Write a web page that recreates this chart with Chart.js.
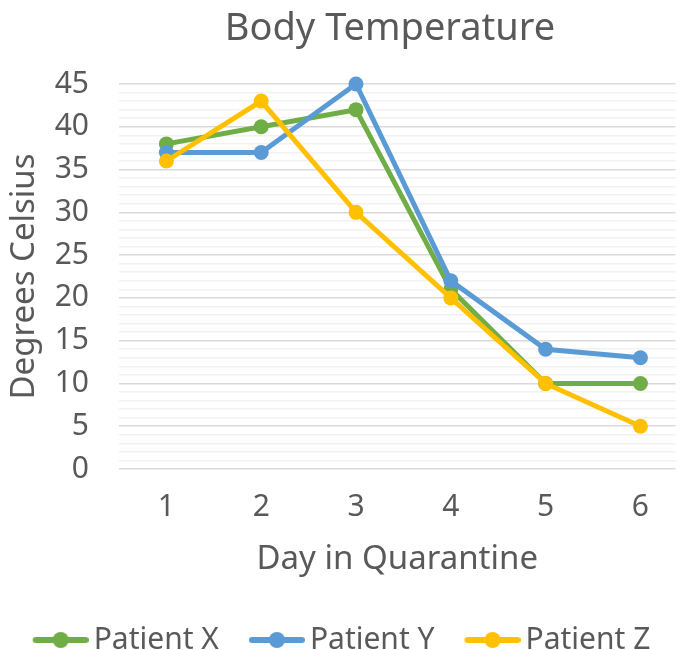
<!DOCTYPE html>
<html>
<head>
<meta charset="utf-8">
<script src="https://cdn.jsdelivr.net/npm/chart.js@4"></script>
<style>
  html, body { margin: 0; padding: 0; background: #fff; overflow: hidden; width: 683px; height: 650px; }
  #wrap { position: absolute; left: 0; top: 0; width: 683px; height: 665px; }
</style>
</head>
<body>
<div id="wrap"><canvas id="chart" width="683" height="665"></canvas></div>
<script>
// chart data
const days = [1, 2, 3, 4, 5, 6];
const patientX = [38, 40, 42, 21, 10, 10];
const patientY = [37, 37, 45, 22, 14, 13];
const patientZ = [36, 43, 30, 20, 10, 5];
const seriesNames = ['Patient X', 'Patient Y', 'Patient Z'];
const seriesColors = ['#70AD47', '#5B9BD5', '#FFC000'];

const FONT = '"Noto Sans", "Open Sans", sans-serif';
const TEXT = '#595959';

// legend swatch: line with a dot, shifted right so the text sits close to it
function legendSwatch(color) {
  const c = document.createElement('canvas');
  c.width = 66; c.height = 18;
  const g = c.getContext('2d');
  g.strokeStyle = color; g.lineWidth = 6; g.lineCap = 'round';
  g.beginPath(); g.moveTo(13, 9); g.lineTo(63, 9); g.stroke();
  g.fillStyle = color;
  g.beginPath(); g.arc(38, 9, 8, 0, Math.PI * 2); g.fill();
  return c;
}
const swatches = seriesColors.map(legendSwatch);

const titlePlugin = {
  id: 'plainTitle',
  afterDraw(chart) {
    const ctx = chart.ctx;
    ctx.save();
    ctx.font = '38px ' + FONT;
    ctx.fillStyle = TEXT;
    ctx.textAlign = 'center';
    ctx.textBaseline = 'middle';
    ctx.fillText('Body Temperature', 390, 29);
    ctx.restore();
  }
};

function ds(i, vals, order) {
  return {
    label: seriesNames[i], order, clip: false,
    data: vals.map((v, k) => ({ x: days[k], y: v })),
    borderColor: seriesColors[i], backgroundColor: seriesColors[i],
    borderWidth: 5, pointRadius: 7.5, pointHoverRadius: 7.5,
    pointBackgroundColor: seriesColors[i], pointBorderWidth: 0,
    tension: 0, fill: false
  };
}

new Chart(document.getElementById('chart'), {
  type: 'line',
  data: {
    datasets: [ds(0, patientX, 2), ds(1, patientY, 1), ds(2, patientZ, 0)]
  },
  options: {
    responsive: false,
    maintainAspectRatio: false,
    animation: false,
    layout: { padding: { top: 84, right: 0, left: 0, bottom: 0 } },
    plugins: {
      title: { display: false },
      tooltip: { enabled: false },
      legend: {
        position: 'bottom',
        labels: {
          usePointStyle: true,
          pointStyleWidth: 46,
          padding: 30,
          color: TEXT,
          font: { family: FONT, size: 30 },
          generateLabels() {
            return seriesNames.map((n, i) => ({
              text: n, pointStyle: swatches[i], fillStyle: seriesColors[i],
              strokeStyle: 'transparent', lineWidth: 0, hidden: false,
              fontColor: TEXT, datasetIndex: i
            }));
          }
        }
      }
    },
    scales: {
      x: {
        type: 'linear',
        min: 0.5, max: 6.37,   // plot area runs a little past the right edge in the original
        grid: { display: false },
        border: { display: false },
        ticks: { color: TEXT, font: { family: FONT, size: 30 }, padding: 12 },
        afterBuildTicks(s) { s.ticks = days.map(v => ({ value: v })); },
        title: { display: true, text: 'Day in Quarantine', color: TEXT,
                 font: { family: FONT, size: 33 }, padding: { top: 4, bottom: 16 } },
        afterFit(s) { s.height = 126; s.paddingLeft = 0; s.paddingRight = 0; }
      },
      y: {
        min: 0, max: 45,
        grid: {
          drawTicks: false,
          color: c => (c.tick && c.tick.value % 5 === 0) ? '#D9D9D9' : '#F2F2F2',
          lineWidth: 1.5
        },
        border: { display: false },
        ticks: {
          stepSize: 1, autoSkip: false, padding: 30,
          color: TEXT, font: { family: FONT, size: 30 },
          callback: v => (v % 5 === 0 ? v : '')
        },
        title: { display: true, text: 'Degrees Celsius', color: TEXT,
                 font: { family: FONT, size: 33 }, padding: { top: 5, bottom: 4 } },
        afterFit(s) { s.width = 119; }
      }
    }
  },
  plugins: [titlePlugin]
});
</script>
</body>
</html>
